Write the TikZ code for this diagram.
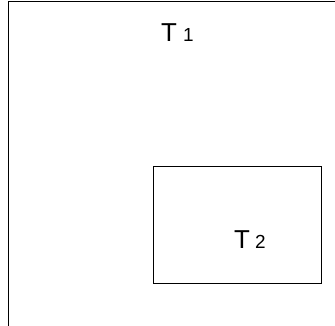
\documentclass[tikz,border=0pt]{standalone}
\usepackage{fontspec}
\setmainfont{Liberation Sans}
\begin{document}
\begin{tikzpicture}[x=1bp,y=-1bp,
  frame/.style={draw=black,line width=1bp},
  label/.style={inner sep=0pt,anchor=base west,font=\fontsize{26}{30}\selectfont}]
  \useasboundingbox (0,0) rectangle (335,326);
  % outer region, open to the right and bottom
  \coordinate (o1) at (8.5,326);
  \coordinate (o2) at (8.5,1.5);
  \coordinate (o3) at (335,1.5);
  \draw[frame] (o1) -- (o2) -- (o3);
  % inner region
  \node[frame,rectangle,inner sep=0pt,anchor=north west,
        minimum width=168bp,minimum height=117.5bp] (box2) at (152.5,165.5) {};
  % region labels
  \node[label] (t1) at (161,41) {T\kern6bp{\fontsize{19}{22}\selectfont 1}};
  \node[label] (t2) at (234,248) {T\kern5bp{\fontsize{19}{22}\selectfont 2}};
\end{tikzpicture}
\end{document}
